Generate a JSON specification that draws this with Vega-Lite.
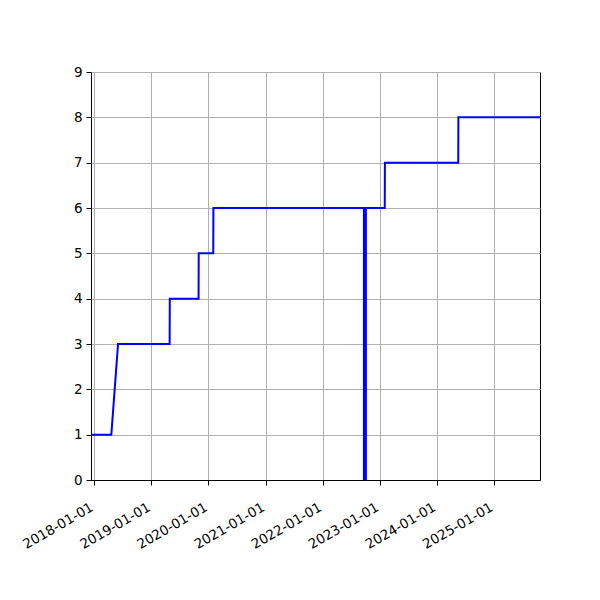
{
  "$schema": "https://vega.github.io/schema/vega-lite/v6.json",
  "width": 449,
  "height": 408,
  "autosize": {"type": "none"},
  "padding": {"left": 91, "top": 72, "right": 60, "bottom": 120},
  "background": "white",
  "config": {
    "view": {"stroke": "black", "strokeWidth": 1},
    "font": "DejaVu Sans",
    "axis": {
      "labelFont": "DejaVu Sans",
      "labelFontSize": 13.5,
      "labelColor": "black",
      "domainColor": "black",
      "domainWidth": 1,
      "tickColor": "black",
      "tickWidth": 1,
      "tickSize": 5,
      "labelPadding": 4,
      "gridColor": "#b0b0b0",
      "gridWidth": 1,
      "title": null
    }
  },
  "datasets": {
    "steps": [
      {"date": "2017-12-11", "count": 1},
      {"date": "2018-04-20", "count": 1},
      {"date": "2018-06-02", "count": 3},
      {"date": "2019-04-28", "count": 3},
      {"date": "2019-04-29", "count": 4},
      {"date": "2019-10-30", "count": 4},
      {"date": "2019-10-31", "count": 5},
      {"date": "2020-02-01", "count": 5},
      {"date": "2020-02-02", "count": 6},
      {"date": "2023-02-02", "count": 6},
      {"date": "2023-02-03", "count": 7},
      {"date": "2024-05-17", "count": 7},
      {"date": "2024-05-18", "count": 8},
      {"date": "2025-10-22", "count": 8}
    ],
    "marker": [
      {"date": "2022-09-28", "low": 0, "high": 6}
    ]
  },
  "layer": [
    {
      "data": {"name": "steps"},
      "mark": {"type": "line", "color": "#0000ff", "strokeWidth": 2},
      "encoding": {
        "x": {
          "field": "date",
          "type": "temporal",
          "scale": {"type": "utc", "domain": [{"year": 2017, "month": 12, "date": 11, "utc": true}, {"year": 2025, "month": 10, "date": 22, "utc": true}], "nice": false},
          "axis": {
            "values": [
              {"year": 2018, "month": 1, "date": 1, "utc": true},
              {"year": 2019, "month": 1, "date": 1, "utc": true},
              {"year": 2020, "month": 1, "date": 1, "utc": true},
              {"year": 2021, "month": 1, "date": 1, "utc": true},
              {"year": 2022, "month": 1, "date": 1, "utc": true},
              {"year": 2023, "month": 1, "date": 1, "utc": true},
              {"year": 2024, "month": 1, "date": 1, "utc": true},
              {"year": 2025, "month": 1, "date": 1, "utc": true}
            ],
            "format": "%Y-%m-%d",
            "labelAngle": -30,
            "labelAlign": "right",
            "labelBaseline": "top",
            "labelOffset": -6,
            "labelPadding": 15,
            "labelOverlap": false,
            "labelFlush": false
          }
        },
        "y": {
          "field": "count",
          "type": "quantitative",
          "scale": {"domain": [0, 9], "nice": false},
          "axis": {"values": [0, 1, 2, 3, 4, 5, 6, 7, 8, 9], "labelFlush": false}
        }
      }
    },
    {
      "data": {"name": "marker"},
      "mark": {"type": "rule", "color": "#0000ff", "strokeWidth": 4},
      "encoding": {
        "x": {"field": "date", "type": "temporal"},
        "y": {"field": "low", "type": "quantitative"},
        "y2": {"field": "high"}
      }
    }
  ]
}
